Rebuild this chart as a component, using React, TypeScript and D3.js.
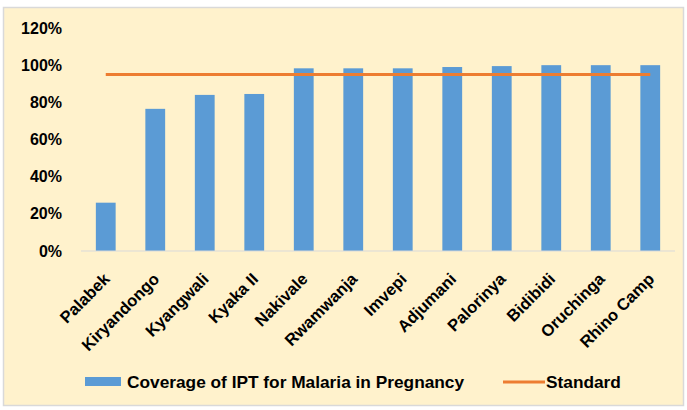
import React, { useEffect, useRef } from 'react';
import * as d3 from 'd3';

const camps = ['Palabek', 'Kiryandongo', 'Kyangwali', 'Kyaka II', 'Nakivale', 'Rwamwanja', 'Imvepi', 'Adjumani', 'Palorinya', 'Bidibidi', 'Oruchinga', 'Rhino Camp'];
const coverage = [26, 76.5, 84, 84.5, 98.3, 98.3, 98.3, 99, 99.5, 100, 100, 100];
const standard = [95, 95, 95, 95, 95, 95, 95, 95, 95, 95, 95, 95];
const yTicks = [0, 20, 40, 60, 80, 100, 120];
const seriesNames = ['Coverage of IPT for Malaria in Pregnancy', 'Standard'];

const App = () => {
  const ref = useRef<SVGSVGElement | null>(null);

  useEffect(() => {
    const width = 687;
    const height = 410;
    const plot = { left: 81, right: 675, top: 28, bottom: 251 };
    const font = '"Liberation Sans", Arial, sans-serif';

    const svg = d3.select(ref.current);
    svg.selectAll('*').remove();

    // background and border
    svg.append('rect').attr('width', width).attr('height', height).attr('fill', '#fff');
    svg.append('rect')
      .attr('x', 3.5).attr('y', 7.5)
      .attr('width', 680).attr('height', 398)
      .attr('fill', '#FFF2CC')
      .attr('stroke', '#D9D9D9')
      .attr('stroke-width', 1.5);

    const x = d3.scaleBand<string>()
      .domain(camps)
      .range([plot.left, plot.right])
      .paddingInner(0.6)
      .paddingOuter(0.3);

    const y = d3.scaleLinear().domain([0, 120]).range([plot.bottom, plot.top]);

    // y labels
    svg.append('g')
      .selectAll('text')
      .data(yTicks)
      .enter()
      .append('text')
      .attr('x', 62)
      .attr('y', (d) => y(d))
      .attr('dy', '0.35em')
      .attr('text-anchor', 'end')
      .attr('font-family', font)
      .attr('font-weight', 'bold')
      .attr('font-size', 16)
      .attr('fill', '#000')
      .text((d) => `${d}%`);

    // bars
    svg.append('g')
      .selectAll('rect')
      .data(coverage)
      .enter()
      .append('rect')
      .attr('x', (d, i) => x(camps[i]) as number)
      .attr('y', (d) => y(d))
      .attr('width', x.bandwidth())
      .attr('height', (d) => y(0) - y(d))
      .attr('fill', '#5B9BD5');

    // baseline
    svg.append('line')
      .attr('x1', plot.left).attr('x2', plot.right)
      .attr('y1', y(0)).attr('y2', y(0))
      .attr('stroke', '#D9D9D9')
      .attr('stroke-width', 1);

    // standard line
    const line = d3.line<number>()
      .x((d, i) => (x(camps[i]) as number) + x.bandwidth() / 2)
      .y((d) => y(d));

    svg.append('path')
      .datum(standard)
      .attr('d', line)
      .attr('fill', 'none')
      .attr('stroke', '#ED7D31')
      .attr('stroke-width', 3);

    // category labels
    svg.append('g')
      .selectAll('text')
      .data(camps)
      .enter()
      .append('text')
      .attr('transform', (d) => `translate(${(x(d) as number) + x.bandwidth() / 2 + 1}, 276) rotate(-45)`)
      .attr('text-anchor', 'end')
      .attr('dy', '0.35em')
      .attr('font-family', font)
      .attr('font-weight', 'bold')
      .attr('font-size', 16.5)
      .attr('fill', '#000')
      .text((d) => d);

    // legend
    const legend = svg.append('g').attr('font-family', font).attr('font-weight', 'bold').attr('font-size', 17.3);
    legend.append('rect').attr('x', 85).attr('y', 377).attr('width', 36).attr('height', 9).attr('fill', '#5B9BD5');
    legend.append('text').attr('x', 127).attr('y', 382).attr('dy', '0.35em').text(seriesNames[0]);
    legend.append('line').attr('x1', 503).attr('x2', 545).attr('y1', 382).attr('y2', 382)
      .attr('stroke', '#ED7D31').attr('stroke-width', 3);
    legend.append('text').attr('x', 546).attr('y', 382).attr('dy', '0.35em').text(seriesNames[1]);
  }, []);

  return (
    <svg
      ref={ref}
      width={687}
      height={410}
      style={{ position: 'absolute', left: 0, top: 0, display: 'block' }}
    />
  );
};

export default App;
